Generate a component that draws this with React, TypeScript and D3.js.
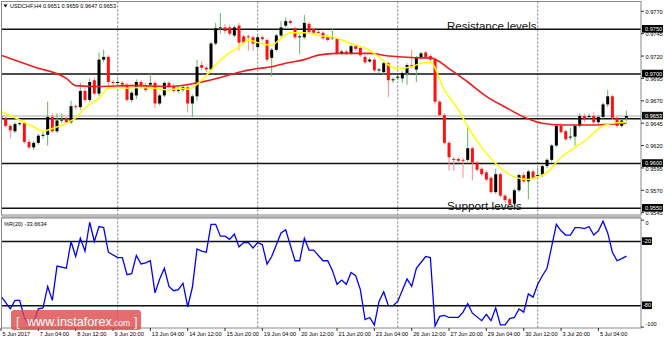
import React from 'react';
import * as d3 from 'd3';

const opens = [0.9653,0.9650,0.9642,0.9636,0.9644,0.9645,0.9624,0.9618,0.9623,0.9631,0.9632,0.9652,0.9636,0.9648,0.9650,0.9646,0.9664,0.9663,0.9681,0.9671,0.9693,0.9678,0.9716,0.9719,0.9691,0.9690,0.9690,0.9688,0.9671,0.9676,0.9691,0.9686,0.9688,0.9690,0.9667,0.9676,0.9690,0.9686,0.9681,0.9682,0.9685,0.9667,0.9675,0.9710,0.9707,0.9705,0.9734,0.9751,0.9752,0.9752,0.9743,0.9754,0.9742,0.9742,0.9741,0.9730,0.9741,0.9738,0.9718,0.9727,0.9743,0.9754,0.9759,0.9751,0.9741,0.9741,0.9756,0.9750,0.9747,0.9746,0.9742,0.9740,0.9739,0.9723,0.9725,0.9723,0.9731,0.9729,0.9719,0.9714,0.9716,0.9704,0.9702,0.9712,0.9693,0.9696,0.9695,0.9701,0.9710,0.9705,0.9718,0.9724,0.9720,0.9716,0.9669,0.9654,0.9623,0.9605,0.9605,0.9604,0.9604,0.9617,0.9601,0.9594,0.9590,0.9584,0.9568,0.9588,0.9564,0.9560,0.9555,0.9570,0.9587,0.9580,0.9591,0.9586,0.9587,0.9597,0.9604,0.9620,0.9642,0.9636,0.9629,0.9630,0.9642,0.9653,0.9652,0.9653,0.9646,0.9652,0.9666,0.9675,0.9651,0.9642,0.9651];
const highs = [0.9655,0.9652,0.9644,0.9646,0.9646,0.9647,0.9627,0.9625,0.9633,0.9636,0.9669,0.9656,0.9656,0.9656,0.9652,0.9670,0.9666,0.9690,0.9684,0.9695,0.9696,0.9724,0.9727,0.9721,0.9693,0.9693,0.9692,0.9690,0.9681,0.9694,0.9693,0.9690,0.9700,0.9692,0.9678,0.9692,0.9692,0.9689,0.9685,0.9687,0.9688,0.9677,0.9716,0.9714,0.9709,0.9736,0.9757,0.9768,0.9756,0.9755,0.9754,0.9757,0.9744,0.9744,0.9743,0.9743,0.9743,0.9740,0.9729,0.9745,0.9759,0.9763,0.9761,0.9753,0.9744,0.9766,0.9758,0.9752,0.9749,0.9748,0.9744,0.9751,0.9741,0.9727,0.9727,0.9733,0.9733,0.9731,0.9721,0.9718,0.9718,0.9707,0.9714,0.9714,0.9696,0.9699,0.9703,0.9712,0.9727,0.9720,0.9725,0.9726,0.9722,0.9718,0.9671,0.9656,0.9625,0.9607,0.9607,0.9606,0.9643,0.9619,0.9603,0.9596,0.9592,0.9586,0.9594,0.9590,0.9566,0.9562,0.9572,0.9589,0.9590,0.9593,0.9593,0.9595,0.9599,0.9606,0.9622,0.9644,0.9645,0.9638,0.9640,0.9644,0.9656,0.9656,0.9656,0.9657,0.9654,0.9668,0.9682,0.9677,0.9653,0.9650,0.9659];
const lows = [0.9648,0.9640,0.9628,0.9634,0.9642,0.9622,0.9616,0.9615,0.9621,0.9628,0.9620,0.9634,0.9634,0.9645,0.9644,0.9644,0.9660,0.9660,0.9668,0.9668,0.9676,0.9675,0.9713,0.9685,0.9687,0.9687,0.9686,0.9669,0.9668,0.9672,0.9684,0.9680,0.9686,0.9662,0.9665,0.9674,0.9684,0.9679,0.9679,0.9680,0.9657,0.9652,0.9670,0.9704,0.9702,0.9703,0.9732,0.9745,0.9745,0.9743,0.9741,0.9726,0.9733,0.9726,0.9726,0.9728,0.9737,0.9714,0.9697,0.9725,0.9741,0.9752,0.9755,0.9739,0.9722,0.9739,0.9745,0.9744,0.9744,0.9738,0.9736,0.9738,0.9721,0.9721,0.9721,0.9721,0.9726,0.9719,0.9711,0.9712,0.9702,0.9701,0.9700,0.9674,0.9690,0.9693,0.9690,0.9688,0.9706,0.9691,0.9716,0.9717,0.9714,0.9666,0.9652,0.9621,0.9592,0.9592,0.9601,0.9584,0.9602,0.9581,0.9591,0.9586,0.9580,0.9566,0.9566,0.9562,0.9556,0.9553,0.9553,0.9568,0.9578,0.9560,0.9582,0.9584,0.9585,0.9595,0.9602,0.9618,0.9633,0.9625,0.9626,0.9620,0.9640,0.9646,0.9650,0.9644,0.9644,0.9650,0.9663,0.9649,0.9640,0.9640,0.9647];
const closes = [0.9650,0.9642,0.9637,0.9644,0.9645,0.9624,0.9618,0.9623,0.9631,0.9632,0.9652,0.9636,0.9648,0.9649,0.9646,0.9664,0.9663,0.9681,0.9671,0.9691,0.9678,0.9716,0.9719,0.9691,0.9690,0.9691,0.9688,0.9671,0.9679,0.9691,0.9686,0.9682,0.9690,0.9667,0.9676,0.9690,0.9686,0.9681,0.9682,0.9685,0.9667,0.9675,0.9708,0.9707,0.9705,0.9734,0.9751,0.9752,0.9748,0.9745,0.9752,0.9735,0.9735,0.9741,0.9734,0.9741,0.9739,0.9716,0.9727,0.9743,0.9752,0.9759,0.9757,0.9741,0.9742,0.9757,0.9747,0.9746,0.9746,0.9740,0.9738,0.9741,0.9723,0.9725,0.9723,0.9731,0.9728,0.9721,0.9713,0.9716,0.9704,0.9705,0.9712,0.9693,0.9694,0.9697,0.9701,0.9710,0.9708,0.9718,0.9723,0.9719,0.9716,0.9669,0.9654,0.9623,0.9607,0.9604,0.9603,0.9603,0.9617,0.9601,0.9593,0.9588,0.9582,0.9568,0.9588,0.9564,0.9559,0.9555,0.9570,0.9587,0.9580,0.9591,0.9584,0.9587,0.9597,0.9604,0.9620,0.9642,0.9635,0.9627,0.9630,0.9642,0.9653,0.9649,0.9653,0.9646,0.9652,0.9666,0.9675,0.9651,0.9642,0.9648,0.9653];

const yellowIdx = [0,3,7,9,11,14,16,18,21,23,25,27,30,33,36,38,40,43,46,49,51,53,55,58,60,62,65,68,72,75,78,81,83,85,88,90,92,95,98,100,103,106,110,113,115,117,120,123,126,128,131,134];
const yellowVal = [0.9658,0.9651,0.9641,0.9636,0.9639,0.9645,0.9651,0.9662,0.9673,0.9684,0.9685,0.9684,0.9685,0.9684,0.9682,0.9684,0.9683,0.9693,0.9710,0.9724,0.9730,0.9738,0.9735,0.9732,0.9740,0.9746,0.9746,0.9743,0.9740,0.9734,0.9729,0.9719,0.9710,0.9706,0.9708,0.9712,0.9713,0.9682,0.9660,0.9641,0.9618,0.9600,0.9585,0.9582,0.9585,0.9590,0.9607,0.9618,0.9629,0.9639,0.9645,0.9646];
const redIdx = [0,7,14,16,21,28,36,42,47,51,55,58,61,65,68,72,75,79,83,86,90,92,96,100,104,108,112,116,120,126,134];
const redVal = [0.9721,0.9708,0.9695,0.9687,0.9686,0.9687,0.9686,0.9690,0.9696,0.9702,0.9706,0.9708,0.9712,0.9716,0.9721,0.9723,0.9723,0.9723,0.9720,0.9719,0.9718,0.9718,0.9706,0.9691,0.9675,0.9663,0.9652,0.9645,0.9643,0.9643,0.9645];

const wprIdx = [0,2,3,4,5,6,7,8,9,10,11,12,14,15,16,17,18,19,20,21,22,23,25,26,27,28,29,30,31,32,33,34,35,36,37,38,39,40,41,42,43,44,45,46,47,48,49,50,51,52,53,54,55,56,57,58,60,61,63,64,65,66,67,69,70,71,72,73,74,75,76,77,78,79,80,81,82,83,84,85,87,88,89,91,92,93,94,95,96,97,98,99,100,101,103,104,105,106,107,108,109,110,111,112,113,114,115,116,117,119,120,121,122,123,124,125,126,127,128,129,130,131,132,133,134];
const wprVal = [-71,-83,-75,-75,-91,-98,-95,-83,-82,-62,-75,-43,-45,-20,-34,-17,-29,-2,-20,-6,-7,-30,-35,-35,-51,-50,-33,-41,-40,-38,-68,-55,-45,-62,-66,-65,-59,-81,-63,-27,-29,-30,-4,-4,-15,-15,-18,-13,-25,-21,-21,-26,-21,-23,-41,-34,-12,-9,-38,-38,-17,-28,-28,-38,-38,-47,-60,-56,-60,-49,-52,-65,-93,-91,-98,-76,-67,-80,-80,-76,-55,-62,-45,-34,-35,-99,-90,-89,-91,-91,-91,-86,-78,-87,-94,-88,-94,-82,-98,-98,-92,-91,-83,-86,-69,-72,-60,-52,-45,-4,-10,-14,-14,-7,-7,-8,-6,-14,-10,-1,-12,-30,-38,-36,-33.66];

const tickIdx = [0,8,16,24,32,40,48,56,64,72,80,88,96,104,112,120,128];
const tickLabels = ['5 Jun 2017','7 Jun 04:00','8 Jun 12:00','9 Jun 20:00','13 Jun 04:00','14 Jun 12:00','15 Jun 20:00','19 Jun 04:00','20 Jun 12:00','21 Jun 20:00','23 Jun 04:00','26 Jun 12:00','27 Jun 20:00','29 Jun 04:00','30 Jun 12:00','3 Jul 20:00','5 Jul 04:00'];
const weekStarts = [25,55,85,115];
const levelPrices = [0.9750,0.9700,0.9650,0.9600,0.9550];
const axisPrices = [0.9770,0.9745,0.9720,0.9695,0.9670,0.9645,0.9620,0.9595,0.9570,0.9545];
const currentPrice = 0.9653;
const wprLevels = [-20,-80];
const wprAxis = [0,-100];
const headerText = 'USDCHF,H4  0.9651 0.9659 0.9647 0.9653';
const wprText = '%R(20) -33.6634';

const FONT = 'Liberation Sans, Arial, sans-serif';

export default function App() {
  const W = 664, H = 340;
  const plotL = 1.5, plotR = 641;
  const mainT = 1.5, mainB = 215;
  const indT = 218, indB = 328;
  const x = d3.scaleLinear().domain([0, 134]).range([1, 1 + 134 * 4.667]);
  const yP = d3.scaleLinear().domain([0.9550, 0.9750]).range([208.2, 29.2]);
  const yR = d3.scaleLinear().domain([-80, -20]).range([305.7, 241.5]);

  const maLine = d3.line<[number, number]>().x(d => x(d[0])).y(d => yP(d[1])).curve(d3.curveMonotoneX);
  const wprLine = d3.line<[number, number]>().x(d => x(d[0])).y(d => yR(d[1]));
  const yellowPts = yellowIdx.map((i, k) => [i, yellowVal[k]] as [number, number]);
  const redPts = redIdx.map((i, k) => [i, redVal[k]] as [number, number]);
  const wprPts = wprIdx.map((i, k) => [i, wprVal[k]] as [number, number]);

  const fs = 5.6;
  // levels whose box is hidden under the current-price box
  const shownLevels = levelPrices.filter(p => Math.abs(yP(p) - yP(currentPrice)) > 6);
  return (
    <svg width={W} height={H} style={{ position: 'fixed', left: 0, top: 0, background: '#fff' }} fontFamily={FONT}>
      <defs>
        <clipPath id="cmain"><rect x={plotL} y={mainT} width={plotR - plotL} height={mainB - mainT} /></clipPath>
        <clipPath id="cind"><rect x={plotL} y={indT} width={plotR - plotL} height={indB - indT} /></clipPath>
      </defs>
      <rect x={0} y={0} width={W} height={H} fill="#fff" />
      {weekStarts.map(i => (
        <line key={'w' + i} x1={x(i)} x2={x(i)} y1={mainT} y2={indB} stroke="#555" strokeWidth={0.8} strokeDasharray="2,2" />
      ))}
      <line x1={plotL} x2={plotR} y1={yP(currentPrice)} y2={yP(currentPrice)} stroke="#aaa" strokeWidth={1} />
      {levelPrices.map(p => (
        <line key={'l' + p} x1={plotL} x2={plotR} y1={yP(p)} y2={yP(p)} stroke="#111" strokeWidth={1.4} />
      ))}
      <g clipPath="url(#cmain)">
        {opens.map((o, i) => {
          const c = closes[i];
          const bull = c >= o;
          const top = yP(Math.max(o, c));
          const bot = yP(Math.min(o, c));
          return (
            <g key={'c' + i}>
              <line x1={x(i)} x2={x(i)} y1={yP(highs[i])} y2={yP(lows[i])} stroke={bull ? '#5fb85f' : '#ff8a8a'} strokeWidth={1} />
              <rect x={x(i) - 1.5} y={top} width={3} height={Math.max(1, bot - top)} fill={bull ? '#000' : '#ff1010'} />
            </g>
          );
        })}
        <path d={maLine(redPts) || ''} fill="none" stroke="#ee1c1c" strokeWidth={1.6} />
        <path d={maLine(yellowPts) || ''} fill="none" stroke="#ffff00" strokeWidth={1.5} />
      </g>
      {wprLevels.map(v => (
        <line key={'r' + v} x1={plotL} x2={plotR} y1={yR(v)} y2={yR(v)} stroke="#111" strokeWidth={1.4} />
      ))}
      <g clipPath="url(#cind)">
        <path d={wprLine(wprPts) || ''} fill="none" stroke="#0000ff" strokeWidth={1.3} />
      </g>
      <rect x={plotL} y={mainT} width={plotR - plotL} height={mainB - mainT} fill="none" stroke="#888" strokeWidth={1} />
      <rect x={plotL} y={mainB} width={plotR - plotL} height={indT - mainB} fill="#bbb" />
      <rect x={plotL} y={indT} width={plotR - plotL} height={indB - indT} fill="none" stroke="#888" strokeWidth={1} />
      <text x={447} y={29.5} fontSize={11.5} fill="#111">Resistance levels</text>
      <text x={447} y={209.5} fontSize={11.8} fill="#111">Support levels</text>
      <path d="M3.5,4.5 L7.5,4.5 L5.5,7.5 Z" fill="#000" />
      <text x={10} y={7.8} fontSize={fs} fill="#000">{headerText}</text>
      <text x={4} y={226} fontSize={fs} fill="#000">{wprText}</text>
      {axisPrices.map(p => (
        <g key={'a' + p}>
          <line x1={plotR} x2={plotR + 3} y1={yP(p)} y2={yP(p)} stroke="#000" strokeWidth={0.8} />
          <text x={645.5} y={yP(p) + 2.6} fontSize={fs} fill="#000">{p.toFixed(4)}</text>
        </g>
      ))}
      {shownLevels.map(p => (
        <g key={'b' + p}>
          <rect x={642} y={yP(p) - 4.2} width={21} height={7.6} fill="#000" />
          <text x={645} y={yP(p) + 1.6} fontSize={fs} fill="#fff">{p.toFixed(4)}</text>
        </g>
      ))}
      <g>
        <rect x={642} y={yP(currentPrice) - 4.2} width={21} height={7.6} fill="#111" />
        <text x={645} y={yP(currentPrice) + 1.6} fontSize={fs} fill="#fff">{currentPrice.toFixed(4)}</text>
      </g>
      {wprAxis.map((v, k) => (
        <g key={'ra' + v}>
          <line x1={plotR} x2={plotR + 3} y1={yR(v)} y2={yR(v)} stroke="#000" strokeWidth={0.8} />
          <text x={645.5} y={yR(v) + (k === 0 ? 4.5 : -1.5)} fontSize={fs} fill="#000">{String(v)}</text>
        </g>
      ))}
      {wprLevels.map(v => (
        <g key={'rb' + v}>
          <rect x={642} y={yR(v) - 4.2} width={10} height={7.6} fill="#000" />
          <text x={643} y={yR(v) + 1.6} fontSize={fs} fill="#fff">{String(v)}</text>
        </g>
      ))}
      {tickIdx.map((i, k) => (
        <g key={'t' + i}>
          <line x1={x(i)} x2={x(i)} y1={indB} y2={indB + 3} stroke="#000" strokeWidth={0.8} />
          <text x={x(i) + 1.5} y={336} fontSize={fs} fill="#000">{tickLabels[k]}</text>
        </g>
      ))}
      <g>
        <rect x={11} y={310} width={130} height={20} rx={3} fill="#dc4848" fillOpacity={0.8} />
        <text x={16} y={326} fontSize={13} fill="#fff" fillOpacity={0.9}>[</text>
        <text x={27} y={326} fontSize={12.6} fill="#fff">www.instaforex<tspan fontSize={8.5}>.com</tspan></text>
        <text x={134} y={326} fontSize={13} fill="#fff" fillOpacity={0.9}>]</text>
      </g>
    </svg>
  );
}
